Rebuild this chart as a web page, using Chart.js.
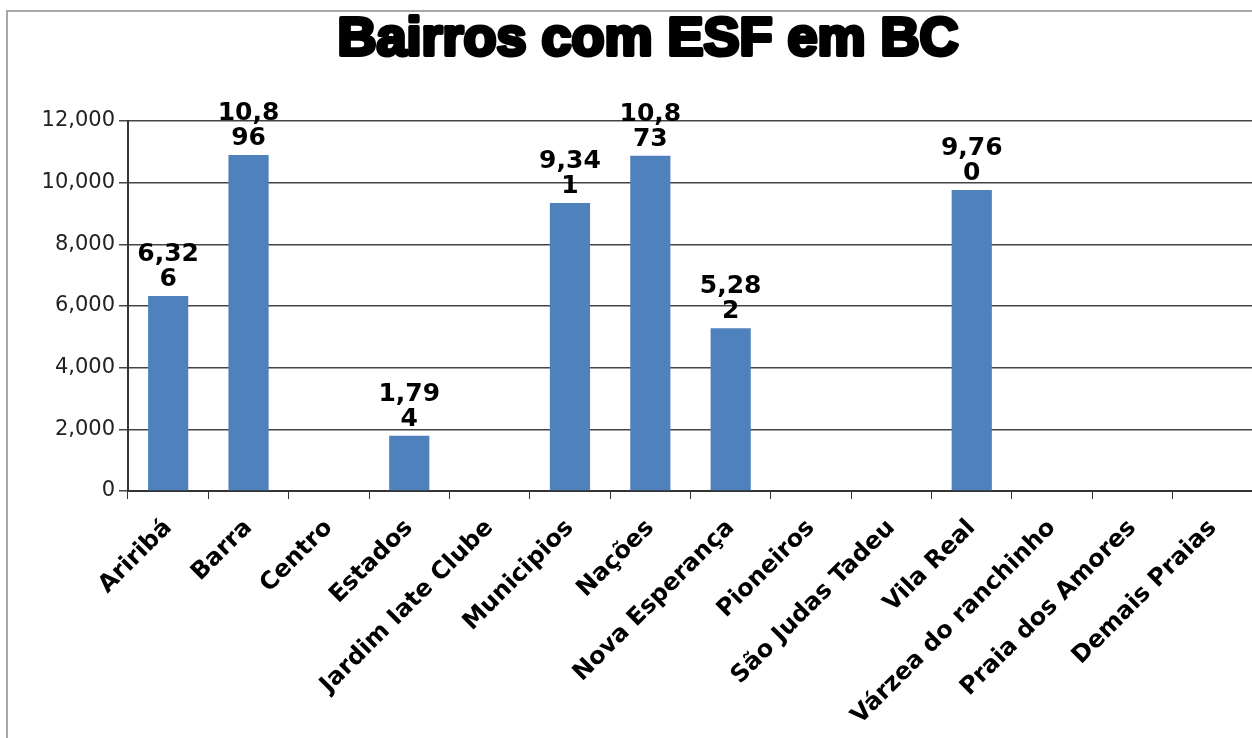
<!DOCTYPE html>
<html>
<head>
<meta charset="utf-8">
<script src="https://cdn.jsdelivr.net/npm/chart.js@4.4.1/dist/chart.umd.min.js"></script>
<style>
    html, body { margin: 0; padding: 0; background: #fff; overflow: hidden; }
    #frame {
        position: absolute; left: 6px; top: 10px;
        width: 1280px; height: 730px;
        border: 2px solid #a8a8a8;
    }
</style>
</head>
<body>
<div id="frame"><canvas id="esfChart"></canvas></div>
<script>
    // Dados do gráfico
    const titleText = 'Bairros com ESF em BC';
    const bairros = [
        'Ariribá', 'Barra', 'Centro', 'Estados', 'Jardim Iate Clube', 'Municipios',
        'Nações', 'Nova Esperança', 'Pioneiros', 'São Judas Tadeu', 'Vila Real',
        'Várzea do ranchinho', 'Praia dos Amores', 'Demais Praias'
    ];
    const populacao = [6326, 10896, null, 1794, null, 9341, 10873, 5282, null, null, 9760, null, null, null];
    const yTicks = [0, 2000, 4000, 6000, 8000, 10000, 12000];

    const fmt = new Intl.NumberFormat('en-US');

    // Rótulos de dados quebrados em linhas de 4 caracteres (como no original)
    const dataLabels = {
        id: 'dataLabels',
        afterDatasetsDraw(chart) {
            const ctx = chart.ctx;
            const meta = chart.getDatasetMeta(0);
            ctx.save();
            ctx.font = 'bold 25px "DejaVu Sans"';
            ctx.fillStyle = '#000';
            ctx.textAlign = 'center';
            ctx.textBaseline = 'bottom';
            meta.data.forEach((bar, i) => {
                const v = populacao[i];
                if (v === null) return;
                const s = fmt.format(v);
                const lines = [];
                for (let k = 0; k < s.length; k += 4) lines.push(s.slice(k, k + 4));
                const lh = 25;
                lines.forEach((ln, j) => {
                    ctx.fillText(ln, bar.x, bar.y - 4 - (lines.length - 1 - j) * lh);
                });
            });
            ctx.restore();
        }
    };

    // Título pesado (simula Arial Black)
    const heavyTitle = {
        id: 'heavyTitle',
        afterDraw(chart) {
            const ctx = chart.ctx;
            ctx.save();
            ctx.font = 'bold 54px "Liberation Sans"';
            ctx.textAlign = 'center';
            ctx.textBaseline = 'middle';
            ctx.fillStyle = '#000';
            ctx.strokeStyle = '#000';
            ctx.lineWidth = 4;
            ctx.lineJoin = 'round';
            ctx.strokeText(titleText, chart.width / 2, 28);
            ctx.fillText(titleText, chart.width / 2, 28);
            ctx.restore();
        }
    };

    const ctx = document.getElementById('esfChart').getContext('2d');
    const esfChart = new Chart(ctx, {
        type: 'bar',
        data: {
            labels: bairros,
            datasets: [{
                data: populacao,
                backgroundColor: '#4F81BD',
                borderWidth: 0,
                categoryPercentage: 1,
                barPercentage: 0.5
            }]
        },
        options: {
            responsive: true,
            maintainAspectRatio: false,
            animation: false,
            locale: 'en-US',
            layout: { padding: { top: 109, right: 35, left: 0, bottom: 0 } },
            plugins: {
                legend: { display: false },
                tooltip: { enabled: false }
            },
            scales: {
                x: {
                    offset: true,
                    grid: {
                        offset: true,
                        drawOnChartArea: false,
                        drawTicks: true,
                        tickLength: 8,
                        color: '#333'
                    },
                    border: { display: true, color: '#333', width: 2 },
                    ticks: {
                        minRotation: 45,
                        maxRotation: 45,
                        autoSkip: false,
                        padding: 15,
                        color: '#000',
                        font: { family: 'DejaVu Sans', weight: 'bold', size: 24 }
                    },
                    afterFit(scale) { scale.height = 251; }
                },
                y: {
                    min: 0,
                    max: 12000,
                    afterBuildTicks(scale) {
                        scale.ticks = yTicks.map(v => ({ value: v }));
                    },
                    grid: {
                        color: '#444',
                        lineWidth: 1.5,
                        tickLength: 9
                    },
                    border: { display: true, color: '#333', width: 2 },
                    ticks: {
                        padding: 4,
                        color: '#222',
                        font: { family: 'DejaVu Sans', size: 21 },
                        callback: v => fmt.format(v)
                    },
                    afterFit(scale) { scale.width = 120; }
                }
            }
        },
        plugins: [dataLabels, heavyTitle]
    });
</script>
</body>
</html>
